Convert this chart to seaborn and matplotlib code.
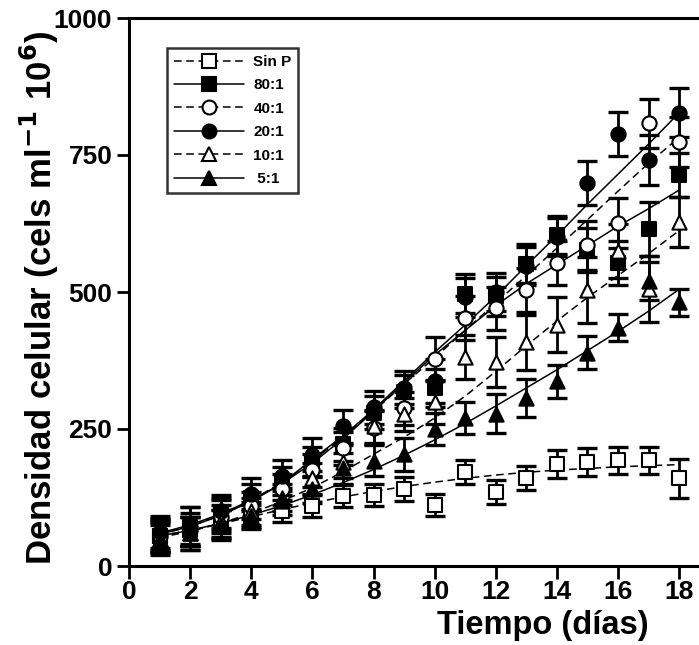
import numpy as np
import pandas as pd
import matplotlib
matplotlib.use("Agg")
import matplotlib.pyplot as plt
import seaborn as sns
from matplotlib.lines import Line2D

# Sampling days
days = list(range(1, 19))

# Treatment labels (as shown in the legend)
series_names = ["Sin P", "80:1", "40:1", "20:1", "10:1", " 5:1"]

# Mean cell density per day (cels ml-1 10^6)
sin_p = [55, 65, 78, 92, 100, 110, 128, 130, 140, 111, 172, 135, 160, 186, 190, 193, 193, 160]
r80 = [55, 72, 95, 125, 155, 190, 222, 280, 318, 325, 497, 492, 552, 604, 577, 553, 615, 713]
r40 = [55, 66, 90, 110, 140, 175, 215, 252, 288, 378, 452, 470, 504, 553, 585, 626, 808, 774]
r20 = [62, 72, 100, 132, 165, 203, 255, 290, 325, 338, 490, 500, 548, 600, 699, 788, 741, 827]
r10 = [50, 60, 82, 100, 125, 160, 190, 255, 277, 300, 381, 372, 408, 440, 504, 575, 505, 628]
r5 = [50, 60, 75, 92, 118, 140, 178, 192, 204, 250, 270, 278, 306, 337, 389, 435, 520, 481]

# Standard deviations
sin_p_err = [25, 25, 25, 20, 20, 20, 20, 20, 22, 20, 22, 22, 22, 25, 25, 25, 25, 35]
r80_err = [30, 35, 30, 25, 25, 28, 30, 30, 30, 35, 35, 35, 35, 35, 40, 40, 50, 40]
r40_err = [30, 30, 30, 25, 28, 30, 30, 30, 30, 40, 40, 40, 40, 40, 45, 45, 45, 45]
r20_err = [30, 35, 30, 28, 28, 30, 30, 30, 30, 40, 35, 35, 35, 35, 40, 40, 45, 45]
r10_err = [30, 30, 30, 25, 25, 28, 30, 30, 30, 40, 40, 45, 50, 50, 60, 50, 60, 45]
r5_err = [25, 30, 28, 25, 25, 25, 28, 28, 30, 30, 30, 35, 35, 30, 30, 25, 35, 25]

# Fitted growth curves evaluated at each day
sin_p_fit = [55, 65, 77, 90, 103, 115, 126, 136, 145, 153, 160, 166, 171, 175, 178, 181, 183, 185]
r80_fit = [58, 72, 92, 118, 150, 188, 232, 282, 335, 385, 430, 475, 515, 550, 585, 620, 652, 686]
r40_fit = [58, 72, 93, 120, 152, 192, 235, 282, 332, 380, 430, 480, 530, 580, 632, 684, 735, 782]
r20_fit = [60, 75, 95, 120, 150, 195, 237, 285, 338, 390, 440, 492, 548, 603, 660, 715, 770, 827]
r10_fit = [52, 63, 78, 96, 118, 143, 172, 204, 235, 270, 310, 355, 402, 447, 490, 530, 570, 612]
r5_fit = [55, 65, 78, 93, 110, 130, 152, 176, 202, 230, 260, 292, 325, 358, 393, 428, 465, 505]

means = [sin_p, r80, r40, r20, r10, r5]
errs = [sin_p_err, r80_err, r40_err, r20_err, r10_err, r5_err]
fits = [sin_p_fit, r80_fit, r40_fit, r20_fit, r10_fit, r5_fit]

obs = pd.concat(
    [pd.DataFrame({"day": days, "dens": m, "sd": e, "trat": n})
     for n, m, e in zip(series_names, means, errs)],
    ignore_index=True,
)
curves = pd.concat(
    [pd.DataFrame({"day": days, "fit": f, "trat": n})
     for n, f in zip(series_names, fits)],
    ignore_index=True,
)

DASH = (0, (5, 3))
styles = {
    "Sin P": dict(marker="s", face="white", ls=DASH),
    "80:1": dict(marker="s", face="black", ls="-"),
    "40:1": dict(marker="o", face="white", ls=DASH),
    "20:1": dict(marker="o", face="black", ls="-"),
    "10:1": dict(marker="^", face="white", ls=DASH),
    " 5:1": dict(marker="^", face="black", ls="-"),
}

sns.set_theme(style="ticks")
plt.rcParams["font.family"] = ["Liberation Sans", "DejaVu Sans"]
plt.rcParams["font.weight"] = "bold"
plt.rcParams["mathtext.default"] = "bf"
for key in ["text.color", "axes.labelcolor", "xtick.color", "ytick.color",
            "axes.edgecolor"]:
    plt.rcParams[key] = "black"

fig = plt.figure(figsize=(6.99, 6.45), dpi=100)
ax = fig.add_axes([129 / 699, 79 / 645, 570 / 699, 548 / 645])

# fitted curves
for name in series_names:
    c = curves[curves["trat"] == name]
    sns.lineplot(data=c, x="day", y="fit", ax=ax, color="black", lw=1.1,
                 legend=False, zorder=2)
    ax.lines[-1].set_linestyle(styles[name]["ls"])

# error bars
for name in series_names:
    d = obs[obs["trat"] == name]
    ax.errorbar(d["day"], d["dens"], yerr=d["sd"], fmt="none", ecolor="black",
                elinewidth=2.0, capsize=7.5, capthick=2.4, zorder=3)

# observed means
for name in series_names:
    st = styles[name]
    d = obs[obs["trat"] == name]
    sns.scatterplot(data=d, x="day", y="dens", ax=ax, marker=st["marker"],
                    color=st["face"], edgecolor="black", linewidth=1.5,
                    s=105, legend=False, zorder=4)

ax.set_xlim(0, 18.65)
ax.set_ylim(0, 1000)
ax.set_xticks(range(0, 19, 2))
ax.set_yticks([0, 250, 500, 750, 1000])
ax.spines["right"].set_visible(False)
for s in ["left", "bottom", "top"]:
    ax.spines[s].set_linewidth(2.2)
ax.tick_params(axis="both", direction="out", length=9, width=2,
               labelsize=19, pad=3)
ax.tick_params(axis="x", pad=1)
for lab in ax.get_xticklabels() + ax.get_yticklabels():
    lab.set_fontweight("bold")

ax.set_xlabel("Tiempo (días)", fontsize=23.5, fontweight="bold")
ax.xaxis.set_label_coords(0.726, -0.08)
ax.set_ylabel("Densidad celular (cels ml$^{-1}$ 10$^{6}$)", fontsize=25,
              fontweight="bold")
ax.yaxis.set_label_coords(-0.12, 0.49)

# legend built from the same marker / line styles
handles = [Line2D([], [], color="black", lw=1.1,
                  linestyle=styles[n]["ls"], marker=styles[n]["marker"],
                  markerfacecolor=styles[n]["face"], markeredgecolor="black",
                  markeredgewidth=1.5, markersize=10)
           for n in series_names]
leg = ax.legend(handles, series_names, loc="upper left",
                bbox_to_anchor=(38 / 570, 1 - 30 / 548), borderaxespad=0,
                frameon=True, fancybox=False, edgecolor="black",
                handlelength=4.6, handletextpad=0.6, labelspacing=0.62,
                borderpad=0.45, prop=dict(weight="bold", size=11))
leg.get_frame().set_linewidth(1.8)

fig.savefig("out.png", dpi=100)
